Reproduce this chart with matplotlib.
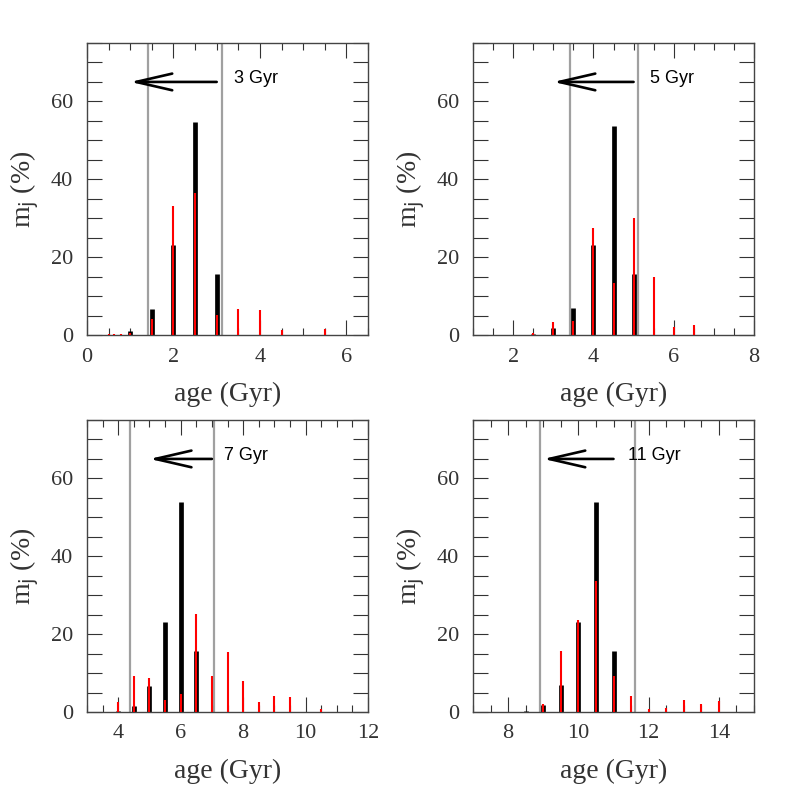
import matplotlib
matplotlib.use("Agg")
import matplotlib.pyplot as plt
from matplotlib.ticker import MultipleLocator

# ages of the four test populations (Gyr)
panel_ages = [3, 5, 7, 11]
xlims = [(0, 6.5), (1, 8), (3, 12), (7, 15)]
xmajor = [2, 2, 2, 2]
# gray vertical lines (age range limits)
vline_lo = [1.40, 3.41, 4.38, 8.90]
vline_hi = [3.12, 5.12, 7.08, 11.62]

# black bars: input weights m_j (%)
black_x = [
    [1.0, 1.5, 2.0, 2.5, 3.0],
    [2.5, 3.0, 3.5, 4.0, 4.5, 5.0],
    [4.0, 4.5, 5.0, 5.5, 6.0, 6.5],
    [8.5, 9.0, 9.5, 10.0, 10.5, 11.0],
]
black_m = [
    [1.1, 6.8, 23.1, 54.6, 15.6],
    [0.3, 1.7, 6.9, 23.2, 53.8, 15.6],
    [0.3, 1.5, 6.7, 23.1, 53.9, 15.7],
    [0.2, 1.7, 6.9, 23.1, 54.0, 15.7],
]
# red bars: recovered weights m_j (%)
red_x = [
    [0.5, 0.63, 0.79, 1.0, 1.5, 2.0, 2.5, 3.0, 3.5, 4.0, 4.5, 5.5],
    [2.5, 3.0, 3.5, 4.0, 4.5, 5.0, 5.5, 6.0, 6.5],
    [4.0, 4.5, 5.0, 5.5, 6.0, 6.5, 7.0, 7.5, 8.0, 8.5, 9.0, 9.5, 10.5],
    [9.0, 9.5, 10.0, 10.5, 11.0, 11.5, 12.0, 12.5, 13.0, 13.5, 14.0],
]
red_m = [
    [0.2, 0.3, 0.3, 0.4, 4.0, 33.1, 36.4, 5.1, 6.8, 6.4, 1.3, 1.5],
    [0.4, 3.3, 3.6, 27.4, 13.4, 30.1, 15.0, 2.0, 2.5],
    [2.6, 9.3, 8.7, 3.2, 4.7, 25.1, 9.2, 15.3, 7.9, 2.5, 4.1, 3.9, 0.7],
    [2.1, 15.7, 23.7, 33.6, 9.2, 4.1, 0.8, 1.1, 3.0, 2.0, 2.9],
]

W = 797
positions = [(87, 43), (473, 43), (87, 420), (473, 420)]
aw, ah = 281, 292

serif = ['Liberation Serif', 'DejaVu Serif']
fig = plt.figure(figsize=(7.97, 7.97), dpi=100)

for i in range(4):
    px, py = positions[i]
    ax = fig.add_axes([px / W, 1 - (py + ah) / W, aw / W, ah / W])
    ax.set_xlim(*xlims[i])
    ax.set_ylim(0, 75)

    ax.axvline(vline_lo[i], color='#a0a0a0', lw=1.6, zorder=1)
    ax.axvline(vline_hi[i], color='#a0a0a0', lw=1.6, zorder=1)

    ax.vlines(black_x[i], 0, black_m[i], color='black', lw=3.4, zorder=2)
    ax.vlines(red_x[i], 0, red_m[i], color='red', lw=1.5, zorder=3)

    age = panel_ages[i]
    ax.annotate('', xy=(age - 2, 65), xytext=(age, 65),
                arrowprops=dict(arrowstyle='->, head_length=2.6, head_width=0.6',
                                mutation_scale=10, color='black', lw=1.9,
                                shrinkA=0, shrinkB=0))
    ax.text(age + 0.4, 66, f'{age} Gyr', fontsize=13, family='Liberation Sans',
            ha='left', va='center')

    ax.xaxis.set_major_locator(MultipleLocator(xmajor[i]))
    ax.xaxis.set_minor_locator(MultipleLocator(0.5))
    ax.yaxis.set_major_locator(MultipleLocator(20))
    ax.yaxis.set_minor_locator(MultipleLocator(5))
    ax.tick_params(which='both', direction='in', top=True, right=True,
                   color='#333333', width=0.8)
    ax.tick_params(axis='x', which='major', length=10.5, pad=9)
    ax.tick_params(axis='x', which='minor', length=5)
    ax.tick_params(axis='y', which='both', length=10.5, pad=10)
    for lab in ax.get_xticklabels() + ax.get_yticklabels():
        lab.set_family(serif)
        lab.set_fontsize(16)
        lab.set_color('#333333')
    for sp in ax.spines.values():
        sp.set_color('#444444')
        sp.set_linewidth(1.0)

    ax.set_xlabel('age (Gyr)', family=serif, fontsize=20, color='#333333', labelpad=11)
    ax.set_ylabel(r'm$_{\rm j}$ (%)', family=serif, fontsize=20, color='#333333', labelpad=7)

fig.savefig('out.png', dpi=100)
